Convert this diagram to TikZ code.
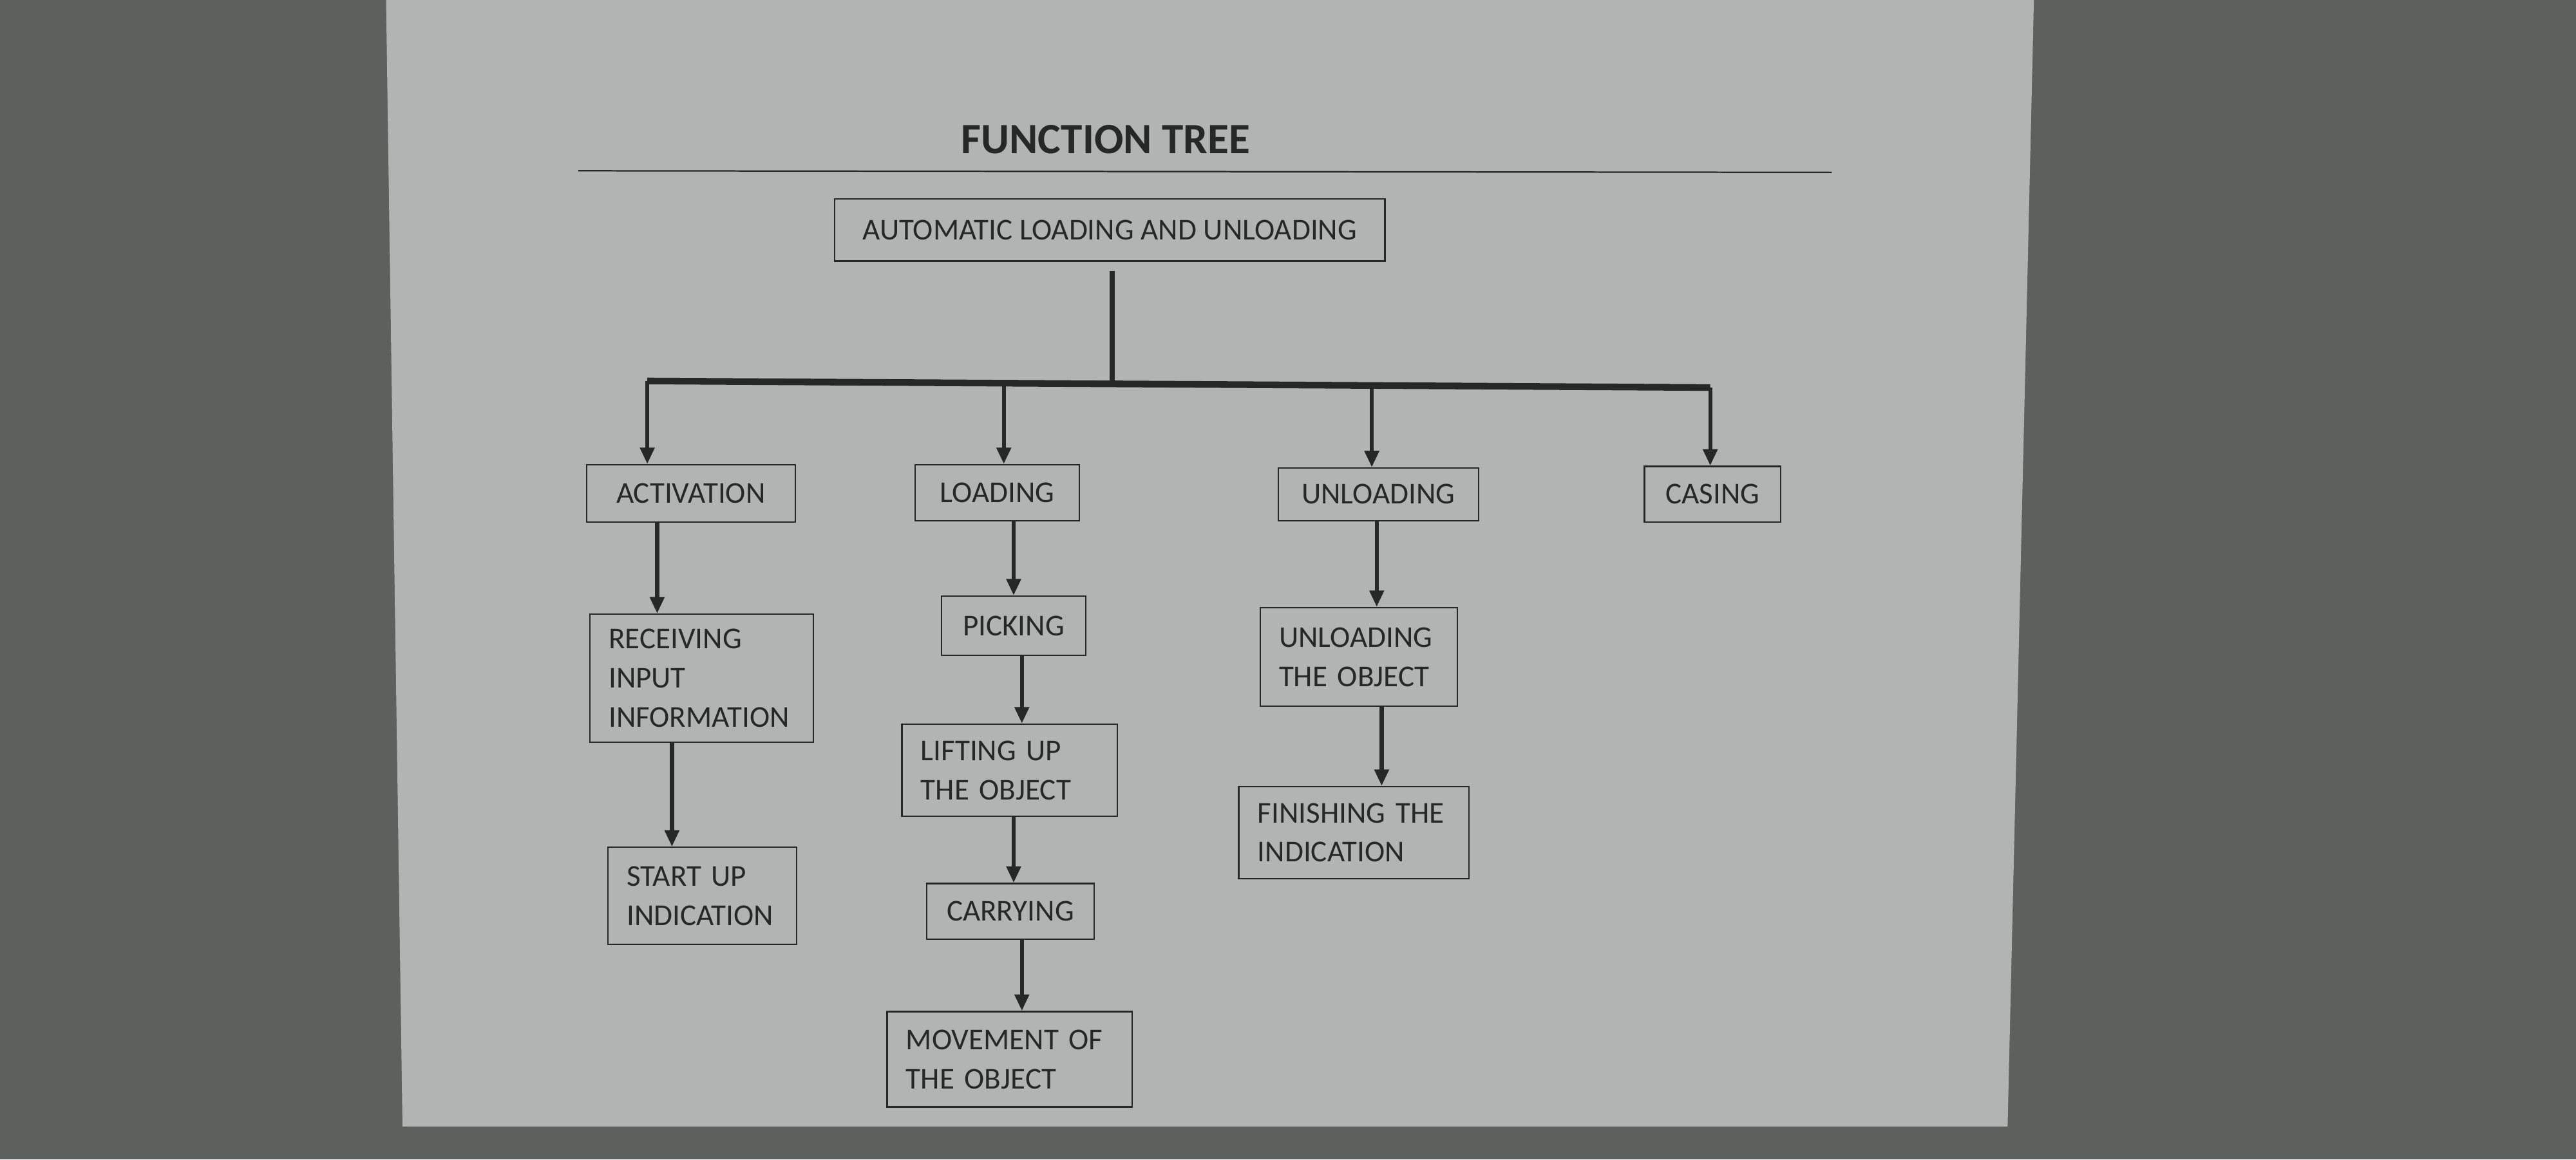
\documentclass[tikz,border=0pt]{standalone}
\usepackage{fontspec}
\setmainfont{Carlito}
\usepackage{tikz}
\usetikzlibrary{arrows.meta}

\definecolor{screen}{RGB}{92,97,94}
\definecolor{paper}{RGB}{176,180,179}
\definecolor{ink}{RGB}{38,40,40}

\begin{document}
\begin{tikzpicture}[
    every node/.style={text=ink, font=\fontsize{10.5}{13.6}\selectfont},
    fbox/.style={draw=ink, line width=0.5pt, inner sep=0pt, align=center},
    fbox2/.style={draw=ink, line width=0.5pt, inner xsep=0.23cm, inner ysep=0pt, align=left},
    flow/.style={draw=ink, line width=1.4pt, -{Triangle[length=2mm,width=1.7mm]}}
]
    \useasboundingbox (0,0) rectangle (31.36,-14.12);
    \fill[screen] (0,0) rectangle (31.36,-14.12);
    \fill[paper] (4.70,0) -- (24.76,0) -- (24.44,-13.72) -- (4.90,-13.72) -- cycle;

    \node[font=\bfseries\fontsize{15}{17}\selectfont] (title) at (13.46,-1.70) {FUNCTION TREE};
    \coordinate (r1) at (7.04,-2.08);
    \coordinate (r2) at (22.30,-2.10);
    \draw[ink, line width=0.5pt] (r1) -- (r2);

    \node[fbox, minimum width=6.70cm, minimum height=0.76cm] (root) at (13.51,-2.80) {AUTOMATIC LOADING AND UNLOADING};

    \node[fbox, minimum width=2.54cm, minimum height=0.70cm] (act) at (8.41,-6.01) {ACTIVATION};
    \node[fbox, minimum width=2.00cm, minimum height=0.68cm] (load) at (12.14,-6.00) {LOADING};
    \node[fbox, minimum width=2.44cm, minimum height=0.64cm] (unl) at (16.78,-6.02) {UNLOADING};
    \node[fbox, minimum width=1.66cm, minimum height=0.68cm] (cas) at (20.85,-6.02) {CASING};

    \node[fbox2, text width=2.26cm, minimum height=1.56cm] (recv) at (8.54,-8.26) {RECEIVING\\INPUT\\INFORMATION};
    \node[fbox2, text width=1.84cm, minimum height=1.18cm] (start) at (8.55,-10.91) {START UP\\INDICATION};

    \node[fbox, minimum width=1.76cm, minimum height=0.72cm] (pick) at (12.34,-7.62) {PICKING};
    \node[fbox2, text width=2.16cm, minimum height=1.12cm] (lift) at (12.29,-9.38) {LIFTING UP\\THE OBJECT};
    \node[fbox, minimum width=2.04cm, minimum height=0.68cm] (carry) at (12.30,-11.10) {CARRYING};
    \node[fbox2, text width=2.52cm, minimum height=1.16cm] (move) at (12.29,-12.90) {MOVEMENT OF\\THE OBJECT};

    \node[fbox2, text width=1.94cm, minimum height=1.20cm] (unlobj) at (16.54,-8.00) {UNLOADING\\THE OBJECT};
    \node[fbox2, text width=2.34cm, minimum height=1.12cm] (fin) at (16.48,-10.14) {FINISHING THE\\INDICATION};

    % branch bar
    \coordinate (top) at (13.54,-3.30);
    \coordinate (mid) at (13.54,-4.66);
    \coordinate (b1) at (7.88,-4.64);
    \coordinate (b2) at (12.22,-4.66);
    \coordinate (b3) at (16.70,-4.69);
    \coordinate (b4) at (20.82,-4.72);
    \draw[ink, line width=1.7pt] (top) -- (mid);
    \draw[ink, line width=2.3pt] (b1) -- (b4);

    \draw[flow] (b1) -- (b1 |- act.north);
    \draw[flow] (b2) -- (b2 |- load.north);
    \draw[flow] (b3) -- (b3 |- unl.north);
    \draw[flow] (b4) -- (b4 |- cas.north);

    \draw[flow] ([xshift=-0.41cm]act.south) -- ([xshift=-0.41cm]act.south |- recv.north);
    \draw[flow] ([xshift=-0.36cm]recv.south) -- ([xshift=-0.36cm]recv.south |- start.north);

    \draw[flow] ([xshift=0.20cm]load.south) -- ([xshift=0.20cm]load.south |- pick.north);
    \draw[flow] ([xshift=0.10cm]pick.south) -- ([xshift=0.10cm]pick.south |- lift.north);
    \draw[flow] ([xshift=0.05cm]lift.south) -- ([xshift=0.05cm]lift.south |- carry.north);
    \draw[flow] ([xshift=0.14cm]carry.south) -- ([xshift=0.14cm]carry.south |- move.north);

    \draw[flow] ([xshift=-0.02cm]unl.south) -- ([xshift=-0.02cm]unl.south |- unlobj.north);
    \draw[flow] ([xshift=0.28cm]unlobj.south) -- ([xshift=0.28cm]unlobj.south |- fin.north);
\end{tikzpicture}
\end{document}
